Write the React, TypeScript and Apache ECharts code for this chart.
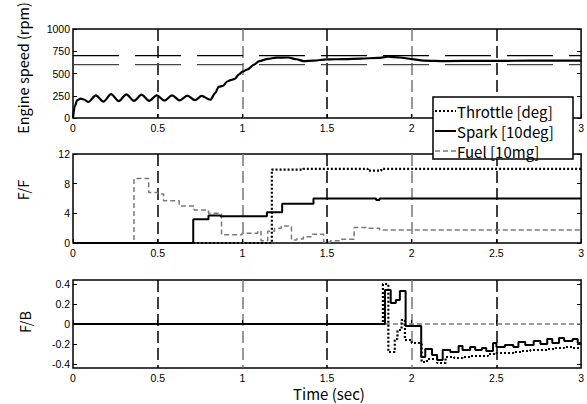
import React, { useEffect, useRef } from 'react';
import * as echarts from 'echarts';

// ---------- data ----------
const timeTicks = [0, 0.5, 1, 1.5, 2, 2.5, 3];
const speedTicks = [0, 250, 500, 750, 1000];
const ffTicks = [0, 4, 8, 12];
const fbTicks = [-0.4, -0.2, 0, 0.2, 0.4];
// x labels hidden under the legend box in the top panel
const hiddenTopLabels = [2.5];

// Engine speed [rpm] vs time [s]
const engineSpeed: [number, number][] = [
  [0, 0], [0.01, 130], [0.025, 200], [0.045, 218], [0.065, 208], [0.09, 180],
  [0.135, 255], [0.18, 185], [0.225, 268], [0.27, 190], [0.315, 265], [0.36, 192],
  [0.405, 262], [0.45, 192], [0.495, 255], [0.54, 195], [0.585, 255], [0.63, 198],
  [0.675, 252], [0.72, 200], [0.76, 248], [0.81, 205], [0.84, 280], [0.86, 350],
  [0.885, 360], [0.91, 410], [0.93, 425], [0.955, 440], [0.98, 490], [1.0, 520],
  [1.03, 545], [1.07, 600], [1.1, 640], [1.15, 665], [1.2, 678], [1.27, 680],
  [1.32, 660], [1.36, 640], [1.42, 645], [1.5, 658], [1.6, 662], [1.7, 668],
  [1.8, 675], [1.86, 688], [1.93, 680], [2.0, 662], [2.07, 645], [2.2, 640],
  [2.4, 642], [2.6, 643], [2.8, 645], [3.0, 645],
];
const targetHigh: [number, number][] = [[0, 700], [3, 700]];
const targetLow: [number, number][] = [[0, 600], [3, 600]];

// Feed-forward (held values)
const ffThrottle: [number, number][] = [
  [0, 0], [1.174, 9.9], [1.36, 10.0], [1.74, 9.75], [1.82, 10.0], [3, 10.0],
];
const ffSpark: [number, number][] = [
  [0, 0], [0.71, 3.2], [0.8, 3.7], [0.87, 3.6], [1.145, 4.15], [1.235, 5.3],
  [1.42, 6.0], [1.79, 5.8], [1.81, 6.0], [3, 6.0],
];
const ffFuel: [number, number][] = [
  [0, 0], [0.36, 8.7], [0.447, 6.8], [0.5, 6.6], [0.535, 5.7], [0.627, 5.0],
  [0.715, 4.45], [0.8, 4.0], [0.877, 1.1], [0.998, 1.3], [1.09, 1.6], [1.11, 0.3],
  [1.15, 1.6], [1.19, 2.0], [1.23, 2.3], [1.29, 0.4], [1.32, 0.55], [1.36, 0.85],
  [1.41, 1.17], [1.48, 0.1], [1.52, 0.3], [1.58, 0.5], [1.66, 2.1], [1.74, 2.0],
  [1.81, 1.75], [3, 1.75],
];

// Feedback (held values)
const fbThrottle: [number, number][] = [
  [0, 0], [1.83, 0.4], [1.862, -0.28], [1.9, -0.15], [1.916, -0.06], [1.94, 0.04],
  [1.96, -0.16], [2.0, -0.19], [2.058, -0.38], [2.09, -0.35], [2.15, -0.39],
  [2.2, -0.33], [2.25, -0.34], [2.3, -0.33], [2.35, -0.32], [2.4, -0.32],
  [2.45, -0.3], [2.5, -0.29], [2.55, -0.29], [2.6, -0.28], [2.65, -0.27],
  [2.7, -0.26], [2.75, -0.26], [2.8, -0.25], [2.85, -0.24], [2.9, -0.23],
  [2.95, -0.24], [3.0, -0.24],
];
const fbSpark: [number, number][] = [
  [0, 0], [1.842, 0.34], [1.876, 0.21], [1.906, 0.24], [1.93, 0.33], [1.964, -0.02],
  [2.056, -0.33], [2.08, -0.25], [2.12, -0.31], [2.15, -0.36], [2.183, -0.26],
  [2.228, -0.28], [2.277, -0.22], [2.3, -0.26], [2.345, -0.23], [2.375, -0.26],
  [2.414, -0.24], [2.44, -0.27], [2.48, -0.19], [2.5, -0.23], [2.55, -0.21],
  [2.6, -0.23], [2.63, -0.18], [2.67, -0.21], [2.72, -0.17], [2.76, -0.2],
  [2.8, -0.15], [2.83, -0.19], [2.87, -0.14], [2.9, -0.17], [2.95, -0.15],
  [2.98, -0.19], [3.0, -0.19],
];
const fbFuel: [number, number][] = [[0, 0], [3, 0]];

const legendItems = ['Throttle [deg]', 'Spark [10deg]', 'Fuel [10mg]'];

// ---------- styles ----------
const NUM_FONT = '"Liberation Sans", Arial, sans-serif';
const TXT_FONT = '"Noto Sans CJK JP", "Noto Sans", sans-serif';
const PLOT_LEFT = 73;
const PLOT_W = 513;
const grids = [
  { top: 29, height: 89 },
  { top: 154, height: 89 },
  { top: 280, height: 88 },
];

const throttleStyle = { color: '#000', width: 2.2, type: [2, 2] as number[] };
const sparkStyle = { color: '#000', width: 2, type: 'solid' as const };
const fuelStyle = { color: '#7a7a7a', width: 1.5, type: [5, 3] as number[] };

const fmt = (v: number) => String(v);

export default function App() {
  const ref = useRef<HTMLDivElement>(null);
  useEffect(() => {
    if (!ref.current) return;
    const chart = echarts.init(ref.current, undefined, { renderer: 'svg' });

    const xAxes = grids.map((_, i) => ({
      type: 'value',
      gridIndex: i,
      min: timeTicks[0],
      max: timeTicks[timeTicks.length - 1],
      interval: 0.5,
      axisLine: { show: false },
      axisTick: { show: true, inside: true, length: 4, lineStyle: { color: '#000' } },
      axisLabel: {
        color: '#000', fontSize: 10.5, fontFamily: NUM_FONT, margin: 4,
        showMaxLabel: true, showMinLabel: true,
        formatter: (v: number) => (i === 0 && hiddenTopLabels.includes(v) ? '' : fmt(v)),
      },
      splitLine: {
        show: true, showMinLine: false, showMaxLine: false,
        lineStyle: { color: ['#000', '#777'], width: 1.5, type: [12, 5] },
      },
    }));

    const yLeft = [
      { min: speedTicks[0], max: speedTicks[speedTicks.length - 1], interval: 250 },
      { min: ffTicks[0], max: ffTicks[ffTicks.length - 1], interval: 4 },
      { min: -0.44, max: 0.44 },
    ];
    const yAxes: any[] = [];
    yLeft.forEach((y, i) => {
      const isFb = i === 2;
      ['left', 'right'].forEach((pos) => {
        yAxes.push({
          type: 'value', gridIndex: i, position: pos, min: y.min, max: y.max,
          ...(isFb ? {} : { interval: y.interval }),
          axisLine: { show: false },
          axisTick: {
            show: true, inside: true, length: 4, lineStyle: { color: '#000' },
            ...(isFb ? { customValues: fbTicks } : {}),
          },
          axisLabel: {
            show: pos === 'left',
            color: '#000', fontSize: 10.5, fontFamily: NUM_FONT, margin: 3,
            formatter: fmt,
            ...(isFb ? { customValues: fbTicks } : {}),
          },
          splitLine: { show: false },
        });
      });
    });

    const line = (data: any, xi: number, yi: number, style: any, extra: any = {}) => ({
      type: 'line', xAxisIndex: xi, yAxisIndex: yi, data,
      showSymbol: false, symbol: 'none', lineStyle: style, silent: true, z: 3, ...extra,
    });

    const series = [
      line(targetHigh, 0, 0, { color: '#000', width: 1.2, type: [46, 16] }),
      line(targetLow, 0, 0, { color: '#444', width: 1.2, type: [46, 16] }),
      line(engineSpeed, 0, 0, { color: '#000', width: 2.2 }, { smooth: 0.3, smoothMonotone: 'x', z: 4 }),
      line(ffFuel, 1, 2, fuelStyle, { step: 'end' }),
      line(ffSpark, 1, 2, sparkStyle, { step: 'end' }),
      line(ffThrottle, 1, 2, throttleStyle, { step: 'end' }),
      line(fbFuel, 2, 4, fuelStyle, { step: 'end' }),
      line(fbThrottle, 2, 4, throttleStyle, { step: 'end' }),
      line(fbSpark, 2, 4, sparkStyle, { step: 'end' }),
    ];

    const lgX = 433, lgY = 97, lgW = 140, lgH = 62;
    const lgStyles = [throttleStyle, sparkStyle, fuelStyle];
    const legendEls: any[] = [
      { type: 'rect', z: 100, shape: { x: lgX, y: lgY, width: lgW, height: lgH },
        style: { fill: '#fff', stroke: '#000', lineWidth: 1.5 } },
    ];
    legendItems.forEach((name, i) => {
      const cy = lgY + 14 + i * 20;
      const st = lgStyles[i];
      legendEls.push({
        type: 'line', z: 101,
        shape: { x1: lgX + 2, y1: cy, x2: lgX + 23, y2: cy },
        style: { stroke: st.color, lineWidth: st.width, lineDash: Array.isArray(st.type) ? st.type : null },
      });
      legendEls.push({
        type: 'text', z: 101, x: lgX + 24, y: cy,
        style: { text: name, fill: '#000', fontSize: 15, fontFamily: TXT_FONT, textAlign: 'left', textVerticalAlign: 'middle' },
      });
    });

    const titleEls: any[] = [
      { type: 'text', x: 22, y: 68, rotation: Math.PI / 2,
        style: { text: 'Engine speed (rpm)', fontSize: 14.5, fontFamily: TXT_FONT, fill: '#000', textAlign: 'center', textVerticalAlign: 'middle' } },
      { type: 'text', x: 22, y: 190, rotation: Math.PI / 2,
        style: { text: 'F/F', fontSize: 14.5, fontFamily: TXT_FONT, fill: '#000', textAlign: 'center', textVerticalAlign: 'middle' } },
      { type: 'text', x: 24, y: 322, rotation: Math.PI / 2,
        style: { text: 'F/B', fontSize: 14.5, fontFamily: TXT_FONT, fill: '#000', textAlign: 'center', textVerticalAlign: 'middle' } },
      { type: 'text', x: 329, y: 393,
        style: { text: 'Time (sec)', fontSize: 15, fontFamily: TXT_FONT, fill: '#000', textAlign: 'center', textVerticalAlign: 'middle' } },
    ];

    chart.setOption({
      animation: false,
      backgroundColor: '#fff',
      grid: grids.map((g) => ({
        left: PLOT_LEFT, width: PLOT_W, top: g.top, height: g.height,
        show: true, borderColor: '#000', borderWidth: 1.5, backgroundColor: 'transparent',
      })),
      xAxis: xAxes,
      yAxis: yAxes,
      series,
      graphic: [...titleEls, ...legendEls],
    });
    return () => chart.dispose();
  }, []);
  return <div ref={ref} style={{ position: 'fixed', left: 0, top: 0, width: 587, height: 404 }} />;
}
